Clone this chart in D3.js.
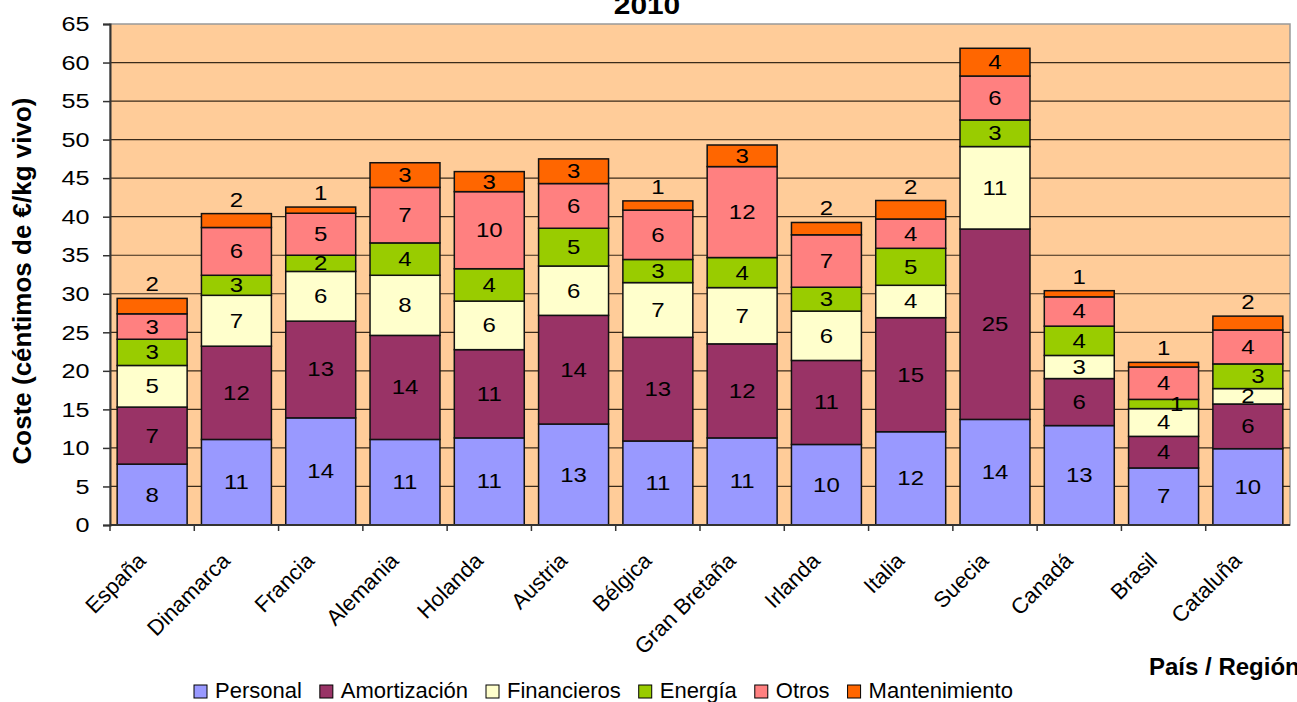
<!DOCTYPE html>
<html>
<head>
<meta charset="utf-8">
<script src="https://cdn.jsdelivr.net/npm/d3@7"></script>
<style>
  body { margin: 0; background: #fff; }
  text { font-family: "Liberation Sans", Arial, sans-serif; fill: #000; }
</style>
</head>
<body>
<script>
var swidth = 1297,
    sheight = 702,
    margin = {top: 24, right: 7, bottom: 177, left: 110},
    width = swidth - margin.left - margin.right,
    height = sheight - margin.top - margin.bottom;

// datos (céntimos de €/kg vivo)
var categories = ["España", "Dinamarca", "Francia", "Alemania", "Holanda", "Austria", "Bélgica",
                  "Gran Bretaña", "Irlanda", "Italia", "Suecia", "Canadá", "Brasil", "Cataluña"];
var personal      = [7.9, 11.1, 13.9, 11.1, 11.3, 13.1, 10.9, 11.3, 10.45, 12.1, 13.7, 12.9, 7.4, 9.9];
var amortizacion  = [7.4, 12.1, 12.55, 13.5, 11.45, 14.1, 13.45, 12.2, 10.9, 14.8, 24.7, 6.1, 4.1, 5.8];
var financieros   = [5.4, 6.6, 6.45, 7.8, 6.3, 6.4, 7.1, 7.3, 6.4, 4.2, 10.7, 3.0, 3.6, 2.0];
var energia       = [3.4, 2.6, 2.1, 4.2, 4.2, 4.9, 3.0, 3.9, 3.1, 4.8, 3.45, 3.8, 1.2, 3.2];
var otros         = [3.3, 6.2, 5.45, 7.2, 10.0, 5.8, 6.4, 11.8, 6.8, 3.8, 5.7, 3.8, 4.2, 4.4];
var mantenimiento = [2.0, 1.8, 0.8, 3.2, 2.6, 3.2, 1.2, 2.8, 1.6, 2.4, 3.6, 0.8, 0.6, 1.8];
var seriesNames = ["Personal", "Amortización", "Financieros", "Energía", "Otros", "Mantenimiento"];
var yTicks = [0, 5, 10, 15, 20, 25, 30, 35, 40, 45, 50, 55, 60, 65];

var seriesValues = [personal, amortizacion, financieros, energia, otros, mantenimiento];
var colors = ["#9999FF", "#993366", "#FFFFCC", "#99CC00", "#FF8080", "#FF6600"];

var rows = categories.map(function(c, i) {
  var r = {pais: c};
  seriesNames.forEach(function(s, j) { r[s] = seriesValues[j][i]; });
  return r;
});

var stack = d3.stack().keys(seriesNames)(rows);

// the source chart's text looks stretched sideways, so texts get a scaleX
function place(x, y, sx, rot) {
  return "translate(" + x + "," + y + ")" + (rot ? " rotate(" + rot + ")" : "") + " scale(" + sx + ",1)";
}

var svg = d3.select("body").append("svg")
    .attr("width", swidth)
    .attr("height", sheight);

var g = svg.append("g")
    .attr("transform", "translate(" + margin.left + "," + margin.top + ")");

var x = d3.scaleBand()
    .domain(categories)
    .range([0, width])
    .paddingInner(0.17)
    .paddingOuter(0.085);

var xb = d3.scaleBand().domain(categories).range([0, width]);

var y = d3.scaleLinear()
    .domain([0, 65])
    .range([height, 0]);

// fondo del área de trazado
g.append("rect")
  .attr("width", width)
  .attr("height", height)
  .attr("fill", "#FFCC99")
  .attr("stroke", "#999")
  .attr("stroke-width", 1.5);

// líneas de división
g.append("g")
  .selectAll("line")
  .data(yTicks.slice(1, -1))
  .enter().append("line")
    .attr("x1", 0)
    .attr("x2", width)
    .attr("y1", function(d) { return y(d); })
    .attr("y2", function(d) { return y(d); })
    .attr("stroke", "#3a2a1a")
    .attr("stroke-width", 1.2);

// barras
var layer = g.selectAll(".layer")
  .data(stack)
  .enter().append("g")
    .attr("class", "layer")
    .attr("fill", function(d, i) { return colors[i]; });

layer.selectAll("rect")
  .data(function(d) { return d; })
  .enter().append("rect")
    .attr("x", function(d) { return x(d.data.pais); })
    .attr("y", function(d) { return y(d[1]); })
    .attr("width", x.bandwidth())
    .attr("height", function(d) { return y(d[0]) - y(d[1]); })
    .attr("stroke", "#111")
    .attr("stroke-width", 1.5);

// etiquetas de datos
var nudge = {"Brasil|Energía": 13, "Cataluña|Energía": 10};

stack.forEach(function(s) {
  g.append("g").selectAll("text")
    .data(s)
    .enter().append("text")
      .attr("text-anchor", "middle")
      .attr("font-size", "20px")
      .attr("transform", function(d) {
        var v = d.data[s.key];
        var cx = x(d.data.pais) + x.bandwidth() / 2 + (nudge[d.data.pais + "|" + s.key] || 0);
        var cy = (s.key === "Mantenimiento" && v < 2.5) ? y(d[1]) - 7 : (y(d[0]) + y(d[1])) / 2 + 7;
        return place(cx, cy, 1.2);
      })
      .text(function(d) { return Math.round(d.data[s.key]); });
});

// eje Y
var yAxis = g.append("g")
  .call(d3.axisLeft(y).tickValues(yTicks).tickSize(7).tickPadding(10));
yAxis.selectAll("text")
  .attr("font-size", "21px")
  .attr("transform", "scale(1.2,1)")
  .style("font-family", "Liberation Sans, Arial, sans-serif");
yAxis.select(".domain").attr("stroke", "#333").attr("stroke-width", 2);
yAxis.selectAll(".tick line").attr("stroke", "#333").attr("stroke-width", 1.5);

// eje X
g.append("line")
  .attr("x1", 0).attr("x2", width)
  .attr("y1", height).attr("y2", height)
  .attr("stroke", "#333").attr("stroke-width", 2);

g.append("g").selectAll("line")
  .data(categories)
  .enter().append("line")
    .attr("x1", function(d) { return xb(d); })
    .attr("x2", function(d) { return xb(d); })
    .attr("y1", height)
    .attr("y2", height + 6)
    .attr("stroke", "#333")
    .attr("stroke-width", 1.5);

g.append("g").selectAll("text")
  .data(categories)
  .enter().append("text")
    .attr("font-size", "22px")
    .attr("text-anchor", "end")
    .attr("transform", function(d) {
      return place(x(d) + x.bandwidth() / 2 - 5, height + 37, 1, -45);
    })
    .text(function(d) { return d; });

// títulos
svg.append("text")
  .attr("transform", place(647, 14, 1.15))
  .attr("text-anchor", "middle")
  .attr("font-size", "26px")
  .attr("font-weight", "bold")
  .text("2010");

svg.append("text")
  .attr("transform", "translate(31,281) rotate(-90)")
  .attr("text-anchor", "middle")
  .attr("font-size", "26px")
  .attr("font-weight", "bold")
  .text("Coste (céntimos de €/kg vivo)");

svg.append("text")
  .attr("x", 1149)
  .attr("y", 675)
  .attr("font-size", "24px")
  .attr("font-weight", "bold")
  .text("País / Región");

// leyenda
var legend = svg.append("g").attr("transform", "translate(194,698)");
var lx = 0;
seriesNames.forEach(function(s, i) {
  var item = legend.append("g").attr("transform", "translate(" + lx + ",0)");
  item.append("rect")
    .attr("x", 0).attr("y", -13)
    .attr("width", 13).attr("height", 13)
    .attr("fill", colors[i])
    .attr("stroke", "#000")
    .attr("stroke-width", 1);
  var t = item.append("text")
    .attr("x", 21)
    .attr("y", 0)
    .attr("font-size", "22px")
    .text(s);
  lx += 21 + t.node().getComputedTextLength() + 18;
});
</script>
</body>
</html>
